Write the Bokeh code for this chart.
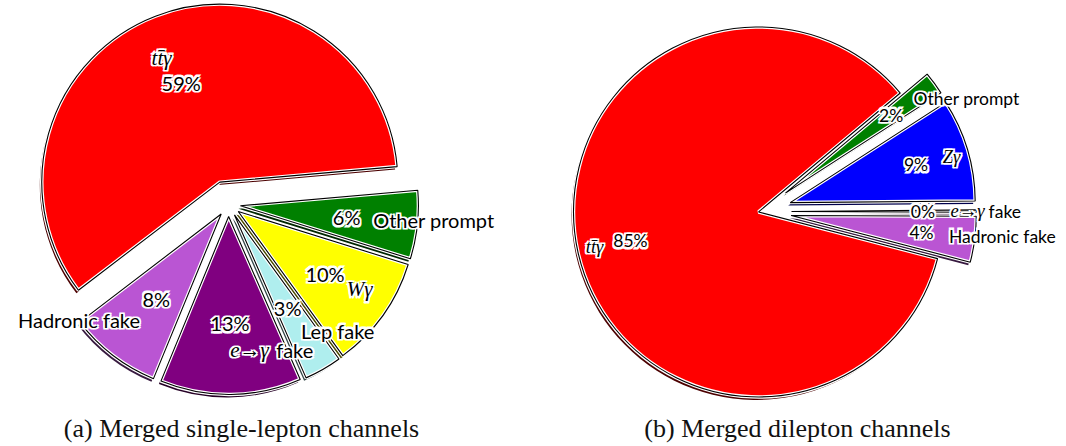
import numpy as np
from bokeh.plotting import figure
from bokeh.models import ColumnDataSource, Range1d
from bokeh.core.properties import value
from bokeh.embed import file_html
from bokeh.resources import INLINE

# ---------------- data ----------------
left_labels = ["tt\u0304\u03b3", "Hadronic fake", "e\u2192\u03b3 fake", "Lep fake", "W\u03b3", "Other prompt"]
left_values = [59.0, 8.4, 12.8, 3.4, 10.2, 6.2]

right_labels = ["tt\u0304\u03b3", "Hadronic fake", "e\u2192\u03b3 fake", "Z\u03b3", "Other prompt"]
right_values = [85.0, 4.0, 0.2, 9.0, 2.0]

captions = ["(a) Merged single-lepton channels", "(b) Merged dilepton channels"]

colors = {
    "tt\u0304\u03b3": "#ff0000",
    "Hadronic fake": "#ba55d3",
    "e\u2192\u03b3 fake": "#800080",
    "Lep fake": "#afeeee",
    "W\u03b3": "#ffff00",
    "Z\u03b3": "#0000ff",
    "Other prompt": "#008000",
}

W, H = 1066, 446
p = figure(width=W, height=H, output_backend="svg", toolbar_location=None,
           x_range=Range1d(0, W), y_range=Range1d(0, H),
           x_axis_location=None, y_axis_location=None, min_border=0)
p.grid.visible = False
p.outline_line_color = None
p.background_fill_color = "white"
p.border_fill_color = "white"

SANS = "Lato"
SERIF = "Liberation Serif"


def darken(c, f=0.3):
    r, g, b = int(c[1:3], 16), int(c[3:5], 16), int(c[5:7], 16)
    return "#%02x%02x%02x" % (int(r * f), int(g * f), int(b * f))


outline_sources = []
text_items = []


def pie(labels, values, cx, cy, R, start_deg, explode, pctdist, labdist, fs, mfs, math_w):
    vals = np.array(values, dtype=float)
    frac = vals / vals.sum()
    ang = np.deg2rad(start_deg) + 2 * np.pi * np.concatenate([[0], np.cumsum(frac)])
    starts, ends = ang[:-1], ang[1:]
    mids = (starts + ends) / 2
    ex = np.array(explode, dtype=float)
    ax = cx + ex * np.cos(mids)
    ay = cy + ex * np.sin(mids)
    cols = [colors[l] for l in labels]
    src = ColumnDataSource(dict(x=ax, y=ay, sx=ax - 2, sy=ay - 3, s=starts, e=ends,
                                c=cols, d=[darken(c) for c in cols]))
    p.wedge(x="sx", y="sy", radius=R, start_angle="s", end_angle="e",
            fill_color="d", line_color=None, source=src)
    p.wedge(x="x", y="y", radius=R, start_angle="s", end_angle="e",
            fill_color="c", line_color="white", line_width=3.5, source=src)
    outline_sources.append((src, R))

    for lab, v, m, x0, y0 in zip(labels, frac, mids, ax, ay):
        px = x0 + pctdist * R * np.cos(m)
        py = y0 + pctdist * R * np.sin(m)
        text_items.append(dict(x=px, y=py, t="%d%%" % round(v * 100), align="center",
                               font=SANS, size=fs, style="normal", xo=0))
        lx = x0 + labdist * R * np.cos(m)
        ly = y0 + labdist * R * np.sin(m)
        align = "left" if np.cos(m) >= 0 else "right"
        parts = lab.split(" ", 1)
        if "\u03b3" in parts[0]:
            text_items.append(dict(x=lx, y=ly, t=parts[0], align=align, font=SERIF,
                                   size=mfs, style="italic", xo=0))
            if len(parts) > 1:
                text_items.append(dict(x=lx, y=ly, t=parts[1], align=align, font=SANS,
                                       size=fs, style="normal", xo=math_w))
        else:
            text_items.append(dict(x=lx, y=ly, t=lab, align=align, font=SANS,
                                   size=fs, style="normal", xo=0))


# data coordinates = page pixels with y measured upward (y = 446 - Y)
pie(left_labels, left_values, 228, 242, 178, 5.0, [24, 12, 12, 12, 12, 12],
    0.6, 0.75, 20, 21, 46)
pie(right_labels, right_values, 760, 235, 185, 40.0, [2, 31, 31, 31, 31],
    0.71, 0.86, 17.5, 18.5, 38)

for src, R in outline_sources:
    p.wedge(x="x", y="y", radius=R, start_angle="s", end_angle="e",
            fill_color=None, line_color="black", line_width=1.1, source=src)

groups = {}
for it in text_items:
    key = (it["align"], it["font"], it["size"], it["style"])
    groups.setdefault(key, []).append(it)

halo = [(-1.3, -1.3), (1.3, -1.3), (-1.3, 1.3), (1.3, 1.3)]
for (align, font, size, style), items in groups.items():
    common = dict(text_align=align, text_baseline="middle", text_font=value(font),
                  text_font_size="%gpx" % size, text_font_style=style)
    for dx, dy in halo:
        s = ColumnDataSource(dict(x=[i["x"] for i in items], y=[i["y"] for i in items],
                                  t=[i["t"] for i in items],
                                  xo=[i["xo"] + dx for i in items],
                                  yo=[dy for i in items]))
        p.text(x="x", y="y", text="t", x_offset="xo", y_offset="yo", source=s,
               text_color="white", text_outline_color="white", **common)
    s = ColumnDataSource(dict(x=[i["x"] for i in items], y=[i["y"] for i in items],
                              t=[i["t"] for i in items], xo=[i["xo"] for i in items]))
    p.text(x="x", y="y", text="t", x_offset="xo", source=s, text_color="black", **common)

cap_src = ColumnDataSource(dict(x=[241, 797], y=[18, 18], t=captions))
p.text(x="x", y="y", text="t", source=cap_src, text_align="center", text_baseline="middle",
       text_font=value(SERIF), text_font_size="26px", text_color="#111111")

open("out.html", "w").write(file_html(p, INLINE))
